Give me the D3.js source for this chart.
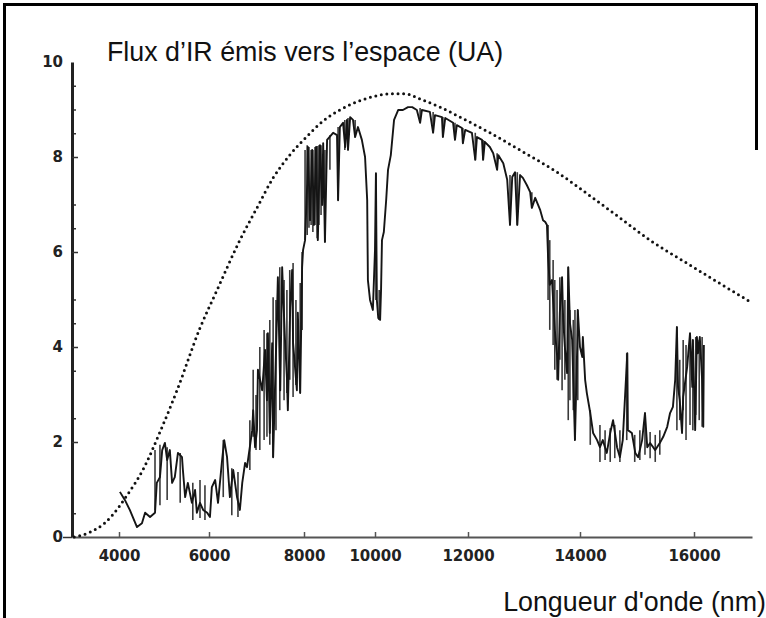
<!DOCTYPE html>
<html><head><meta charset="utf-8">
<script src="https://cdn.jsdelivr.net/npm/d3@7"></script>
<style>body{margin:0;background:#fff}svg{display:block}</style>
</head><body>
<svg id="c" width="766" height="618"></svg>
<script>
// ---- data ----
const xTicks = [4000, 6000, 8000, 10000, 12000, 14000, 16000];
const yTicks = [0, 2, 4, 6, 8, 10];
const yMinorTicks = [0.5, 2.5, 3.5, 4.5, 5, 6.5, 7, 8.5, 9, 9.5];
const titleText = "Flux d\u2019IR émis vers l\u2019espace (UA)";
const xLabelText = "Longueur d'onde (nm)";

// black-body (dotted) curve
const planckX = [3000,3350,3690,3980,4180,4530,4910,5290,5800,6170,6650,7010,7350,7700,8090,8540,9010,9490,10000,10320,10650,10970,11400,11830,12390,12980,13590,14180,14700,15250,15840,16430,16970];
const planckY = [0,0.1,0.3,0.61,0.88,1.41,2.21,3.09,4.4,5.2,6.25,6.93,7.56,8.04,8.44,8.76,8.99,9.16,9.28,9.33,9.33,9.22,9.05,8.84,8.51,8.11,7.68,7.18,6.72,6.23,5.79,5.35,4.95];

// measured spectrum (main trace)
const specX = [4020,4130,4240,4400,4510,4580,4690,4800,4840,4910,4960,5020,5070,5130,5180,5240,5310,5400,5420,5470,5530,5620,5690,5730,5800,5870,5960,
6020,6060,6130,6190,6270,6320,6380,6440,6510,6590,6650,6700,6760,6800,6910,6930,6970,7010,7030,7120,7180,7220,7240,7280,7330,7350,7430,7450,7500,7540,7560,7600,7640,7660,7710,7750,7770,7850,7870,7920,7960,7980,
8030,8090,8110,8170,8230,8280,8340,8390,8450,8510,8540,8590,8650,8820,8930,8960,9010,9100,9160,9210,9240,9300,9380,9440,9520,9630,9720,9780,9800,9860,9940,10000,
10020,10040,10070,10110,10130,10150,10190,10240,10280,10340,10410,10500,10600,10710,10800,10900,10970,11010,11180,11250,11290,11440,11460,11510,11680,11720,11760,11870,11890,11940,
12070,12130,12160,12250,12270,12300,12390,12450,12520,12540,12630,12700,12750,12790,12840,12880,12930,12980,13050,13110,13140,13200,13290,13340,13380,13410,13430,13460,13500,13520,13550,13590,13610,13640,13680,13700,13730,13770,13790,13820,13860,13910,13950,13960,14000,
14040,14050,14090,14120,14180,14230,14300,14350,14400,14470,14530,14580,14650,14700,14750,14830,14840,14910,14970,15020,15090,15140,15180,15230,15320,15400,15460,15530,15580,15630,15670,15700,15720,15750,15790,15810,15880,15900,15930,15970,15980,
16020,16050,16070,16100,16140,16160,16170];
const specY = [0.95,0.78,0.57,0.21,0.29,0.51,0.42,0.51,1.14,1.26,1.83,1.98,1.62,1.83,1.14,1.26,1.77,1.68,1.41,0.84,1.14,0.72,0.99,0.51,0.72,0.57,0.51,
0.42,1.05,1.20,0.72,1.56,2.04,1.68,0.84,1.41,0.84,0.57,1.14,1.56,1.47,2.25,2.67,1.89,2.25,3.52,3.09,3.94,2.88,4.29,2.19,4.08,1.68,4.63,5.47,3.09,5.68,5.14,4.15,3.37,2.67,4.84,5.62,4.08,3.09,4.72,3.03,5.68,6.04,
6.25,7.45,8.21,6.67,8.15,6.57,8.21,6.25,8.25,6.99,8.29,6.21,8.36,8.51,8.46,7.09,8.63,8.72,8.21,8.78,8.15,8.84,8.78,8.42,8.63,8.36,8.00,7.09,5.41,4.99,4.78,6.04,
7.66,4.99,4.61,4.57,5.20,6.25,6.42,7.09,7.73,8.04,8.78,8.99,8.99,9.05,9.05,8.99,8.72,8.99,8.95,8.51,8.88,8.84,8.42,8.82,8.72,8.36,8.67,8.61,8.29,8.57,
8.51,7.94,8.42,8.36,7.94,8.32,8.21,8.08,7.73,8.04,7.87,7.52,6.57,7.58,7.68,6.57,7.62,7.56,7.41,7.26,6.93,7.14,6.88,6.67,6.63,6.57,5.89,5.31,5.41,4.99,4.36,3.83,3.31,4.72,5.47,4.57,4.00,3.45,5.68,4.51,4.15,2.04,4.00,4.78,4.00,
3.79,4.21,3.31,3.03,2.61,2.19,2.04,1.89,2.04,1.77,2.19,2.46,1.89,1.68,2.04,3.87,2.25,2.19,1.77,1.68,2.04,2.61,1.89,1.98,1.83,1.98,2.11,2.32,2.61,2.74,3.31,4.42,3.16,2.88,2.19,2.95,3.58,3.87,4.29,3.16,4.15,
2.25,4.21,3.87,4.21,3.31,2.32,4.04];

// fine absorption lines of the spectrum (vertical strokes): wavelength, low, high
const lineX  = [4800,4910,5070,5360,5640,5800,5910,6300,6480,6610,6860,6930,6990,7070,7160,7220,7280,7350,7410,7490,7580,7640,7700,7770,7830,7920,7960,
8030,8090,8140,8200,8250,8310,8370,8420,8480,8590,8730,8960,9150,9240,9440,10020,10090,
10970,11250,11460,11720,11890,12130,12270,12520,12750,12880,13140,
13430,13460,13520,13550,13590,13640,13680,13730,13790,13820,13880,13910,13960,
14180,14350,14440,14530,14610,14700,14820,14960,15050,15140,15230,15320,15400,
15700,15750,15810,15860,15930,15980,16030,16090,16140];
const lineLo = [0.57,0.67,0.78,0.72,0.36,0.40,0.36,0.84,0.46,0.42,1.41,2.11,1.83,1.83,2.04,2.11,1.94,1.68,2.25,2.67,2.88,3.03,3.31,2.95,3.20,3.03,4.36,
6.25,6.36,6.51,6.57,6.42,6.57,6.29,6.57,6.78,6.21,7.73,7.09,8.15,8.15,8.42,4.99,4.57,
8.72,8.51,8.42,8.36,8.29,7.94,7.94,7.73,6.57,6.57,6.93,
4.99,4.36,4.04,3.52,3.31,3.73,3.09,3.31,2.46,2.88,2.67,2.04,2.88,
1.94,1.58,1.62,1.58,1.66,1.58,2.04,1.58,1.62,1.73,1.66,1.58,1.73,
2.25,2.46,2.67,2.04,2.36,2.25,2.57,2.46,2.32];
const lineHi = [1.83,1.94,1.89,1.77,1.14,1.20,1.09,2.04,1.45,1.37,2.46,3.52,2.99,4.00,4.36,4.29,4.57,5.05,4.99,5.68,5.41,5.20,5.62,5.77,4.99,5.35,6.00,
8.15,8.25,8.21,8.15,8.15,8.21,8.23,8.25,8.25,8.15,8.46,8.63,8.78,8.82,8.78,7.66,5.20,
9.03,8.95,8.84,8.72,8.61,8.51,8.36,8.08,7.62,7.68,7.26,
6.57,6.25,5.83,5.41,5.20,5.47,5.47,4.99,5.68,4.78,4.57,4.78,4.78,
2.67,2.36,2.25,2.29,2.36,2.25,3.87,2.15,2.25,2.61,2.21,2.15,2.25,
4.42,3.73,4.15,4.04,4.29,4.15,4.21,4.15,4.21];

// ---- drawing ----
const svg = d3.select("#c");
// the original axis is slightly non-uniform (hand-drawn), hence a piecewise scale
const x = d3.scaleLinear()
  .domain([2950, 4000, 6000, 8000, 10000, 12000, 14000, 16000, 17000])
  .range([72, 119, 209, 304, 375, 468, 580, 694, 752]);
const y = d3.scaleLinear().domain([0, 10]).range([537, 62]);

// frame
svg.append("path")
  .attr("d", "M4.5,618 L4.5,4.5 L756.5,4.5 L756.5,150")
  .attr("fill", "none").attr("stroke", "#000").attr("stroke-width", 3);

const tickFont = "DejaVu Sans, Verdana, sans-serif";

// x axis
const gx = svg.append("g").attr("transform", `translate(0,${y(0)})`)
  .call(d3.axisBottom(x).tickValues(xTicks).tickSize(-5).tickPadding(13).tickFormat(d3.format("d")).tickSizeOuter(0));
gx.select(".domain").attr("stroke", "#555").attr("stroke-width", 2);
gx.selectAll(".tick line").attr("stroke", "#555").attr("stroke-width", 1.5);
gx.selectAll(".tick text").attr("font-family", tickFont).attr("font-weight", "bold")
  .attr("font-size", 15).attr("fill", "#222");

// y axis minor ticks
svg.append("g").attr("transform", `translate(${x.range()[0]},0)`)
  .call(d3.axisLeft(y).tickValues(yMinorTicks).tickSize(-4).tickFormat(""))
  .call(g => g.select(".domain").remove())
  .selectAll(".tick line").attr("stroke", "#333").attr("stroke-width", 1.5);

// y axis
const gy = svg.append("g").attr("transform", `translate(${x.range()[0]},0)`)
  .call(d3.axisLeft(y).tickValues(yTicks).tickSize(-6).tickPadding(9).tickSizeOuter(0));
gy.select(".domain").attr("stroke", "#222").attr("stroke-width", 3);
gy.selectAll(".tick line").attr("stroke", "#333").attr("stroke-width", 1.5)
  .attr("x2", d => d === 0 ? -9 : (d === 10 ? 0 : 6));
gy.selectAll(".tick text").attr("font-family", tickFont).attr("font-weight", "bold")
  .attr("font-size", 15).attr("fill", "#222");

// dotted black-body curve
const planck = planckX.map((v, i) => [v, planckY[i]]);
svg.append("path").datum(planck)
  .attr("d", d3.line().x(d => x(d[0])).y(d => y(d[1])).curve(d3.curveMonotoneX))
  .attr("fill", "none").attr("stroke", "#111").attr("stroke-width", 3)
  .attr("stroke-linecap", "round").attr("stroke-dasharray", "0 5.6");

// fine absorption lines
svg.append("g").selectAll("line").data(lineX).join("line")
  .attr("x1", d => x(d)).attr("x2", d => x(d))
  .attr("y1", (d, i) => y(lineLo[i])).attr("y2", (d, i) => y(lineHi[i]))
  .attr("stroke", "#3a3a3a").attr("stroke-width", 1.6);

// spectrum
const spec = specX.map((v, i) => [v, specY[i]]);
svg.append("path").datum(spec)
  .attr("d", d3.line().x(d => x(d[0])).y(d => y(d[1])))
  .attr("fill", "none").attr("stroke", "#151515").attr("stroke-width", 1.9)
  .attr("stroke-linejoin", "round");

// texts
svg.append("text").attr("x", 107).attr("y", 61).text(titleText)
  .attr("font-family", "Liberation Sans, Arial, sans-serif").attr("font-size", 26.8).attr("fill", "#111");
svg.append("text").attr("x", 766).attr("y", 611).attr("text-anchor", "end").text(xLabelText)
  .attr("font-family", "Liberation Sans, Arial, sans-serif").attr("font-size", 26.8).attr("fill", "#111");
</script>
</body></html>
